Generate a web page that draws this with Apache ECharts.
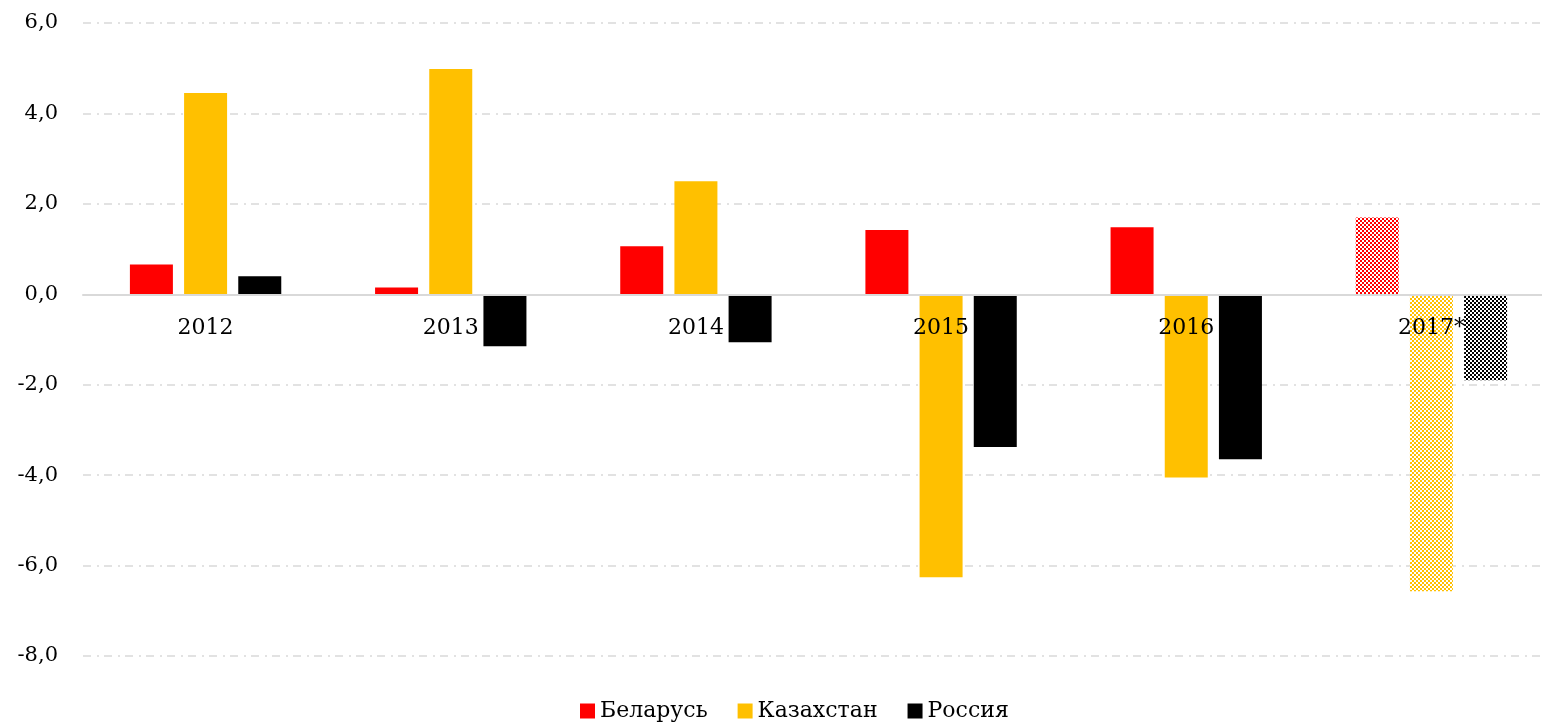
<!DOCTYPE html>
<html><head><meta charset="utf-8">
<script src="https://cdn.jsdelivr.net/npm/echarts@6/dist/echarts.min.js"></script>
<style>html,body{margin:0;padding:0;background:#fff;overflow:hidden}#c{width:1554px;height:722px}</style>
</head><body><div id="c"></div>
<script>
const categories = ['2012','2013','2014','2015','2016','2017*'];
const belarus = [0.66, 0.15, 1.06, 1.42, 1.48, 1.70];
const kazakhstan = [4.45, 4.98, 2.50, -6.26, -4.05, -6.57];
const russia = [0.40, -1.15, -1.06, -3.38, -3.65, -1.90];
const yTicks = [-8, -6, -4, -2, 0, 2, 4, 6];
const seriesNames = ['Беларусь','Казахстан','Россия'];
const colors = ['#FF0000','#FFC000','#000000'];
const forecastIndex = 5;

function checker(color){
  const c = document.createElement('canvas');
  c.width = 4; c.height = 4;
  const g = c.getContext('2d');
  g.fillStyle = '#ffffff'; g.fillRect(0,0,4,4);
  g.fillStyle = color;
  g.fillRect(0,0,2,2); g.fillRect(2,2,2,2);
  return {image: c, repeat: 'repeat'};
}
const FONT = 'DejaVu Serif';
function mk(name, vals, color){
  return {
    name, type:'bar', barWidth:43, barGap:'26%',
    itemStyle:{color},
    data: vals.map((v,i)=> i===forecastIndex ? {value:v, itemStyle:{color:checker(color)}} : v)
  };
}
const gridTop = 23, gridBottom = 66, H = 722;
const yMin = yTicks[0], yMax = yTicks[yTicks.length-1];
const plotH = H - gridTop - gridBottom;
const zeroOffset = -plotH * (0 - yMin) / (yMax - yMin);

const chart = echarts.init(document.getElementById('c'));
chart.setOption({
  animation:false,
  textStyle:{fontFamily:FONT},
  grid:{left:83,right:0,top:gridTop,bottom:gridBottom,containLabel:false},
  legend:{bottom:-5,left:575,itemWidth:15,itemHeight:15,itemGap:30,
    icon:'rect',
    textStyle:{fontFamily:FONT,fontSize:22,color:'#000'},
    data:seriesNames.map((n,i)=>({name:n,itemStyle:{color:colors[i]}}))},
  xAxis:{type:'category',data:categories,z:10,offset:zeroOffset,
    axisLine:{onZero:false,lineStyle:{color:'#d9d9d9',width:2}},
    axisTick:{show:false},
    axisLabel:{fontFamily:FONT,fontSize:22,color:'#000',margin:23}},
  yAxis:{type:'value',min:yMin,max:yMax,interval:2,
    axisLine:{show:false},axisTick:{show:false},
    axisLabel:{fontFamily:FONT,fontSize:21,color:'#000',margin:25,
      formatter:v=>v.toFixed(1).replace('.',',')},
    splitLine:{lineStyle:{color:'#d9d9d9',width:1.5,type:[8,6,2,5]}}},
  series:[mk(seriesNames[0],belarus,colors[0]),mk(seriesNames[1],kazakhstan,colors[1]),mk(seriesNames[2],russia,colors[2])]
});
</script></body></html>
